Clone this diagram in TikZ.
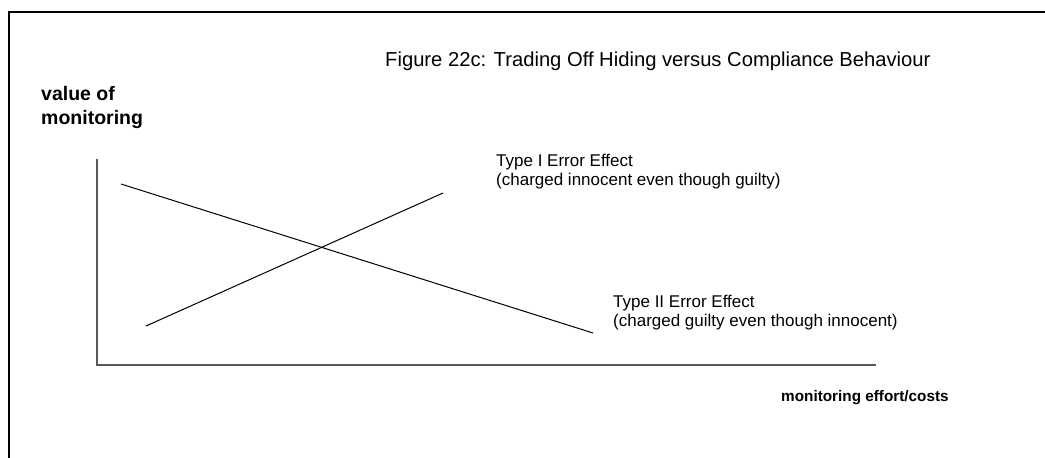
\documentclass[tikz,border=0pt]{standalone}
\usepackage{fontspec}
\setmainfont{Liberation Sans}
\begin{document}
\begin{tikzpicture}[x=1pt,y=-1pt,
  frameline/.style={line width=2pt,black},
  axisline/.style={line width=1.3pt,black!65},
  curve/.style={line width=1pt,black},
  lbl/.style={inner sep=0pt,anchor=base west,font=\fontsize{17}{19}\selectfont},
  axislbl/.style={inner sep=0pt,anchor=base west,font=\bfseries\fontsize{#1}{#1}\selectfont},
  titlelbl/.style={inner sep=0pt,anchor=base west,font=\fontsize{20.2}{24}\selectfont}]
  \useasboundingbox[fill=white] (0,0) rectangle (1045,458);
  % outer frame (top and left edges)
  \coordinate (fbl) at (9,458);
  \coordinate (ftl) at (9,12);
  \coordinate (ftr) at (1045,12);
  \draw[frameline] (fbl) -- (ftl) -- (ftr);
  % title
  \node[titlelbl] (title) at (385,66) {Figure 22c: Trading Off Hiding versus Compliance Behaviour};
  % axes
  \coordinate (ytop) at (97,159);
  \coordinate (origin) at (97,365);
  \coordinate (xend) at (876,365);
  \draw[axisline] (ytop) -- (origin) -- (xend);
  \node[axislbl=19.5] (ylab1) at (41,100) {value of};
  \node[axislbl=19.5] (ylab2) at (41,124) {monitoring};
  \node[axislbl=15.3] (xlab) at (781,401) {monitoring effort/costs};
  % decreasing effect line
  \coordinate (a1) at (121,184);
  \coordinate (a2) at (593,333);
  \draw[curve] (a1) -- (a2);
  % increasing effect line
  \coordinate (b1) at (146,326);
  \coordinate (b2) at (443,193);
  \draw[curve] (b1) -- (b2);
  % effect labels
  \node[lbl] (t1a) at (496,166) {Type I Error Effect};
  \node[lbl] (t1b) at (496,185) {(charged innocent even though guilty)};
  \node[lbl] (t2a) at (613,307) {Type II Error Effect};
  \node[lbl] (t2b) at (613,326) {(charged guilty even though innocent)};
\end{tikzpicture}
\end{document}
